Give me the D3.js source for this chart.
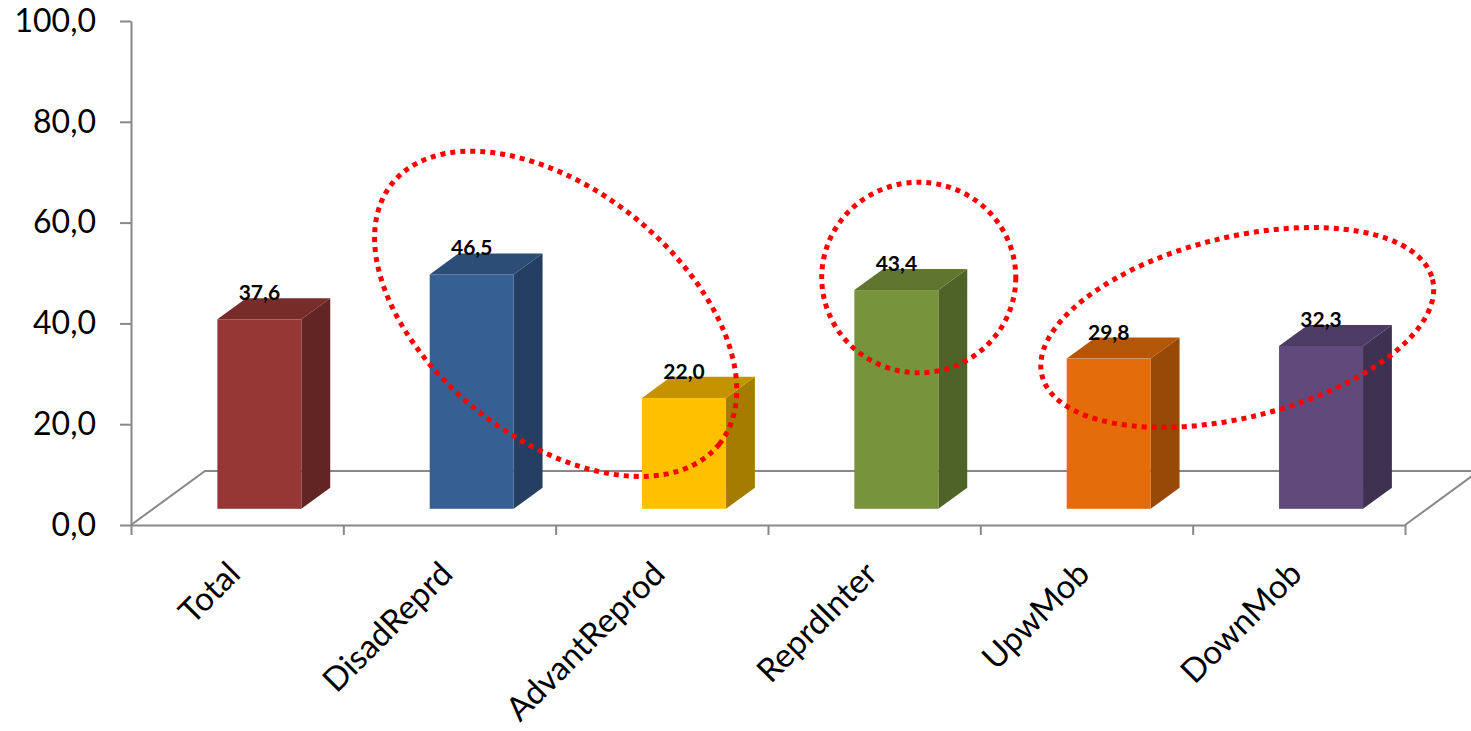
<!DOCTYPE html>
<html>
<head>
<meta charset="utf-8">
<script src="https://cdn.jsdelivr.net/npm/d3@7"></script>
<style>
  body { margin: 0; background: #fff; }
  svg { display: block; font-family: Lato, "Open Sans", sans-serif; }
  .axis path, .axis line { stroke: #888; stroke-width: 2; }
</style>
</head>
<body>
<script>
// Chart data
var categories = ["Total", "DisadReprd", "AdvantReprod", "ReprdInter", "UpwMob", "DownMob"];
var values = [37.6, 46.5, 22.0, 43.4, 29.8, 32.3];
var yTicks = [0, 20, 40, 60, 80, 100];

// red dotted highlights, in data units (category index / value)
var highlightCat = [1.5, 3.21, 4.71];
var highlightValue = [41.9, 49.1, 39.2];
var highlightCatSpan = [0.985, 0.457, 0.947];
var highlightValueSpan = [24.7, 18.9, 17.9];
var highlightTilt = [38.5, 0, -13.8];

// face colours: front, top, side
var frontColors = ["#953735", "#376092", "#FFC000", "#77933C", "#E46C0A", "#604A7B"];
var topColors   = ["#772C2A", "#2C4D75", "#C59300", "#5F7530", "#B45608", "#4C3B62"];
var sideColors  = ["#632523", "#243F61", "#A67C00", "#4F6228", "#984807", "#3F3151"];

var svgWidth = 1471;
var svgHeight = 731;

// plot frame
var plotLeft = 131, plotRight = 1405, plotBottom = 525, plotTop = 21;

// 3D floor depth and bar placement inside it
var floorDx = 74, floorDy = -54;
var barStart = 0.3, barDepth = 0.39;
var barWidth = 84;

var svg = d3.select("body")
  .append("svg")
  .attr("width", svgWidth)
  .attr("height", svgHeight);

var x = d3.scaleLinear()
  .domain([-0.5, categories.length - 0.5])
  .range([plotLeft, plotRight]);

var y = d3.scaleLinear()
  .domain([0, 100])
  .range([plotBottom, plotTop]);

// floor outline
svg.append("path")
  .attr("d", `M${plotLeft},${plotBottom} L${plotLeft + floorDx},${plotBottom + floorDy} L${plotRight + floorDx},${plotBottom + floorDy} L${plotRight},${plotBottom}`)
  .attr("fill", "none")
  .attr("stroke", "#888")
  .attr("stroke-width", 2);

// y axis
var leftAxis = d3.axisLeft(y)
  .tickValues(yTicks)
  .tickFormat(d => d.toFixed(1).replace(".", ","))
  .tickSizeInner(11)
  .tickSizeOuter(0)
  .tickPadding(24);

var yAxis = svg.append("g")
  .classed("axis", true)
  .attr("transform", `translate(${plotLeft},0)`)
  .call(leftAxis);
yAxis.selectAll("text")
  .attr("font-size", 32)
  .attr("font-family", "Lato, sans-serif")
  .attr("fill", "#000");

// x axis: ticks at category boundaries
var boundaries = d3.range(categories.length + 1).map(i => i - 0.5);
var bottomAxis = d3.axisBottom(x)
  .tickValues(boundaries)
  .tickFormat("")
  .tickSizeInner(10)
  .tickSizeOuter(0);

svg.append("g")
  .classed("axis", true)
  .attr("transform", `translate(0,${plotBottom})`)
  .call(bottomAxis);

// category labels
svg.selectAll(".cat-label")
  .data(categories)
  .enter()
  .append("text")
  .attr("class", "cat-label")
  .attr("text-anchor", "end")
  .attr("font-size", 33)
  .attr("fill", "#000")
  .attr("transform", (d, i) => `translate(${x(i) + 5},${plotBottom + 51}) rotate(-45)`)
  .text(d => d);

// bars
var offX = floorDx * barStart, offY = floorDy * barStart;
var depX = floorDx * barDepth, depY = floorDy * barDepth;

var bars = svg.selectAll(".bar")
  .data(values)
  .enter()
  .append("g")
  .attr("class", "bar");

bars.each(function(v, i) {
  var g = d3.select(this);
  var x0 = x(i) + offX - barWidth / 2;
  var x1 = x0 + barWidth;
  var yb = y(0) + offY;
  var yt = y(v) + offY;

  // side face
  g.append("path")
    .attr("d", `M${x1},${yb} L${x1 + depX},${yb + depY} L${x1 + depX},${yt + depY} L${x1},${yt} Z`)
    .attr("fill", sideColors[i]);
  // top face
  g.append("path")
    .attr("d", `M${x0},${yt} L${x0 + depX},${yt + depY} L${x1 + depX},${yt + depY} L${x1},${yt} Z`)
    .attr("fill", topColors[i]);
  // front face
  g.append("rect")
    .attr("x", x0)
    .attr("y", yt)
    .attr("width", barWidth)
    .attr("height", yb - yt)
    .attr("fill", frontColors[i]);

  // value label
  g.append("text")
    .attr("x", x(i) + offX)
    .attr("y", yt - 19)
    .attr("text-anchor", "middle")
    .attr("font-size", 21)
    .attr("font-weight", "bold")
    .attr("fill", "#000")
    .text(v.toFixed(1).replace(".", ","));
});

// highlight ellipses
var pxPerCat = x(1) - x(0);
var pxPerVal = y(0) - y(1);
highlightCat.forEach(function(c, k) {
  svg.append("ellipse")
    .attr("cx", 0)
    .attr("cy", 0)
    .attr("rx", highlightCatSpan[k] * pxPerCat)
    .attr("ry", highlightValueSpan[k] * pxPerVal)
    .attr("transform", `translate(${x(c)},${y(highlightValue[k])}) rotate(${highlightTilt[k]})`)
    .attr("fill", "none")
    .attr("stroke", "#FF0000")
    .attr("stroke-width", 5)
    .attr("stroke-dasharray", "5,5");
});
</script>
</body>
</html>
